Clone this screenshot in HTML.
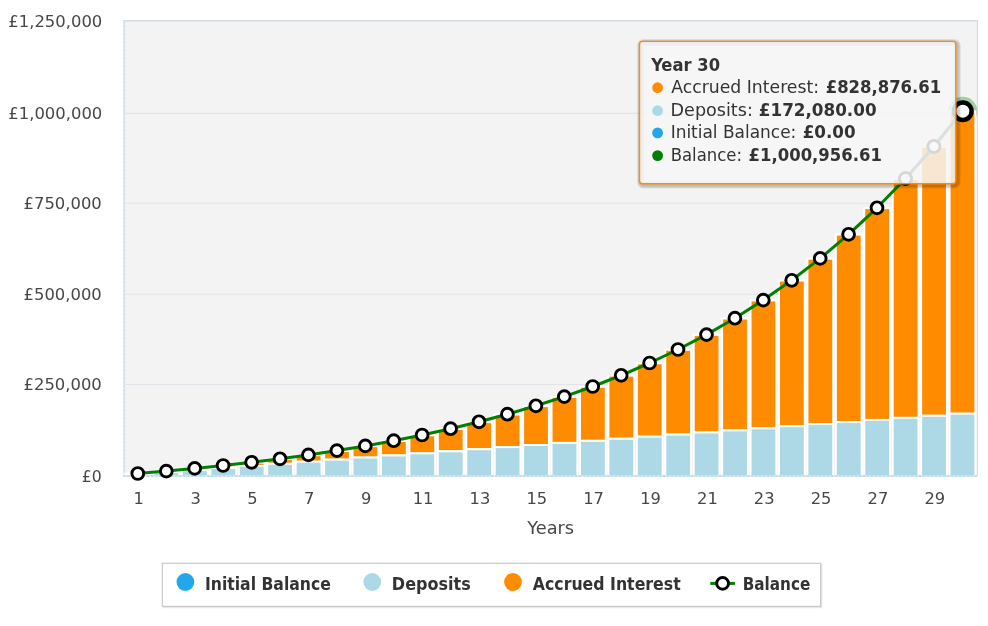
<!DOCTYPE html>
<html lang="en"><head><meta charset="utf-8"><title>Savings chart</title>
<style>html,body{margin:0;padding:0;background:#fff}svg{display:block}text{font-family:'DejaVu Sans','Liberation Sans',sans-serif;font-size:16.3px}</style></head><body>
<svg width="988" height="626" viewBox="0 0 988 626">
<rect x="0" y="0" width="988" height="626" fill="#ffffff"/>
<rect x="123.5" y="20.2" width="854.0" height="456.6" fill="#f3f3f3"/>
<line x1="123.5" x2="977.5" y1="113.4" y2="113.4" stroke="#e0e4e8" stroke-width="1.1"/>
<line x1="123.5" x2="977.5" y1="203.3" y2="203.3" stroke="#e0e4e8" stroke-width="1.1"/>
<line x1="123.5" x2="977.5" y1="294.2" y2="294.2" stroke="#e0e4e8" stroke-width="1.1"/>
<line x1="123.5" x2="977.5" y1="384.5" y2="384.5" stroke="#e0e4e8" stroke-width="1.1"/>
<line x1="123.2" x2="977.8" y1="20.7" y2="20.7" stroke="#d3dbe3" stroke-width="1.4"/>
<line x1="124.2" x2="124.2" y1="20" y2="476" stroke="#dde3e9" stroke-width="1.7"/>
<line x1="124.2" x2="124.2" y1="22.0" y2="476" stroke="#c6d3e1" stroke-width="1.1" stroke-dasharray="0.9,3.1"/>
<line x1="977.4" x2="977.4" y1="20" y2="476" stroke="#d5dce3" stroke-width="1.1"/>
<clipPath id="pc"><rect x="123.5" y="0" width="854.0" height="476.8"/></clipPath>
<circle cx="962.8" cy="111.2" r="14.4" fill="#008000" fill-opacity="0.32" clip-path="url(#pc)"/>
<rect x="125.10" y="473.76" width="25.8" height="0.49" fill="#FF8C00" stroke="#fff" stroke-width="2"/>
<rect x="125.10" y="474.25" width="25.8" height="1.75" fill="#ADD8E6" stroke="#fff" stroke-width="2"/>
<rect x="153.53" y="471.35" width="25.8" height="0.81" fill="#FF8C00" stroke="#fff" stroke-width="2"/>
<rect x="153.53" y="472.16" width="25.8" height="3.84" fill="#ADD8E6" stroke="#fff" stroke-width="2"/>
<rect x="181.96" y="468.71" width="25.8" height="1.37" fill="#FF8C00" stroke="#fff" stroke-width="2"/>
<rect x="181.96" y="470.07" width="25.8" height="5.93" fill="#ADD8E6" stroke="#fff" stroke-width="2"/>
<rect x="210.39" y="465.80" width="25.8" height="2.19" fill="#FF8C00" stroke="#fff" stroke-width="2"/>
<rect x="210.39" y="467.99" width="25.8" height="8.01" fill="#ADD8E6" stroke="#fff" stroke-width="2"/>
<rect x="238.82" y="462.59" width="25.8" height="3.31" fill="#FF8C00" stroke="#fff" stroke-width="2"/>
<rect x="238.82" y="465.90" width="25.8" height="10.10" fill="#ADD8E6" stroke="#fff" stroke-width="2"/>
<rect x="267.25" y="459.06" width="25.8" height="4.75" fill="#FF8C00" stroke="#fff" stroke-width="2"/>
<rect x="267.25" y="463.81" width="25.8" height="12.19" fill="#ADD8E6" stroke="#fff" stroke-width="2"/>
<rect x="295.68" y="455.18" width="25.8" height="6.54" fill="#FF8C00" stroke="#fff" stroke-width="2"/>
<rect x="295.68" y="461.72" width="25.8" height="14.28" fill="#ADD8E6" stroke="#fff" stroke-width="2"/>
<rect x="324.11" y="450.90" width="25.8" height="8.73" fill="#FF8C00" stroke="#fff" stroke-width="2"/>
<rect x="324.11" y="459.63" width="25.8" height="16.37" fill="#ADD8E6" stroke="#fff" stroke-width="2"/>
<rect x="352.54" y="446.19" width="25.8" height="11.35" fill="#FF8C00" stroke="#fff" stroke-width="2"/>
<rect x="352.54" y="457.54" width="25.8" height="18.46" fill="#ADD8E6" stroke="#fff" stroke-width="2"/>
<rect x="380.97" y="441.01" width="25.8" height="14.44" fill="#FF8C00" stroke="#fff" stroke-width="2"/>
<rect x="380.97" y="455.45" width="25.8" height="20.55" fill="#ADD8E6" stroke="#fff" stroke-width="2"/>
<rect x="409.40" y="435.31" width="25.8" height="18.06" fill="#FF8C00" stroke="#fff" stroke-width="2"/>
<rect x="409.40" y="453.37" width="25.8" height="22.63" fill="#ADD8E6" stroke="#fff" stroke-width="2"/>
<rect x="437.83" y="429.03" width="25.8" height="22.25" fill="#FF8C00" stroke="#fff" stroke-width="2"/>
<rect x="437.83" y="451.28" width="25.8" height="24.72" fill="#ADD8E6" stroke="#fff" stroke-width="2"/>
<rect x="466.26" y="422.12" width="25.8" height="27.07" fill="#FF8C00" stroke="#fff" stroke-width="2"/>
<rect x="466.26" y="449.19" width="25.8" height="26.81" fill="#ADD8E6" stroke="#fff" stroke-width="2"/>
<rect x="494.69" y="414.51" width="25.8" height="32.59" fill="#FF8C00" stroke="#fff" stroke-width="2"/>
<rect x="494.69" y="447.10" width="25.8" height="28.90" fill="#ADD8E6" stroke="#fff" stroke-width="2"/>
<rect x="523.12" y="406.14" width="25.8" height="38.87" fill="#FF8C00" stroke="#fff" stroke-width="2"/>
<rect x="523.12" y="445.01" width="25.8" height="30.99" fill="#ADD8E6" stroke="#fff" stroke-width="2"/>
<rect x="551.55" y="396.92" width="25.8" height="46.00" fill="#FF8C00" stroke="#fff" stroke-width="2"/>
<rect x="551.55" y="442.92" width="25.8" height="33.08" fill="#ADD8E6" stroke="#fff" stroke-width="2"/>
<rect x="579.98" y="386.78" width="25.8" height="54.06" fill="#FF8C00" stroke="#fff" stroke-width="2"/>
<rect x="579.98" y="440.83" width="25.8" height="35.17" fill="#ADD8E6" stroke="#fff" stroke-width="2"/>
<rect x="608.41" y="375.61" width="25.8" height="63.14" fill="#FF8C00" stroke="#fff" stroke-width="2"/>
<rect x="608.41" y="438.75" width="25.8" height="37.25" fill="#ADD8E6" stroke="#fff" stroke-width="2"/>
<rect x="636.84" y="363.31" width="25.8" height="73.34" fill="#FF8C00" stroke="#fff" stroke-width="2"/>
<rect x="636.84" y="436.66" width="25.8" height="39.34" fill="#ADD8E6" stroke="#fff" stroke-width="2"/>
<rect x="665.27" y="349.78" width="25.8" height="84.79" fill="#FF8C00" stroke="#fff" stroke-width="2"/>
<rect x="665.27" y="434.57" width="25.8" height="41.43" fill="#ADD8E6" stroke="#fff" stroke-width="2"/>
<rect x="693.70" y="334.88" width="25.8" height="97.60" fill="#FF8C00" stroke="#fff" stroke-width="2"/>
<rect x="693.70" y="432.48" width="25.8" height="43.52" fill="#ADD8E6" stroke="#fff" stroke-width="2"/>
<rect x="722.13" y="318.48" width="25.8" height="111.91" fill="#FF8C00" stroke="#fff" stroke-width="2"/>
<rect x="722.13" y="430.39" width="25.8" height="45.61" fill="#ADD8E6" stroke="#fff" stroke-width="2"/>
<rect x="750.56" y="300.43" width="25.8" height="127.87" fill="#FF8C00" stroke="#fff" stroke-width="2"/>
<rect x="750.56" y="428.30" width="25.8" height="47.70" fill="#ADD8E6" stroke="#fff" stroke-width="2"/>
<rect x="778.99" y="280.56" width="25.8" height="145.65" fill="#FF8C00" stroke="#fff" stroke-width="2"/>
<rect x="778.99" y="426.21" width="25.8" height="49.79" fill="#ADD8E6" stroke="#fff" stroke-width="2"/>
<rect x="807.42" y="258.69" width="25.8" height="165.43" fill="#FF8C00" stroke="#fff" stroke-width="2"/>
<rect x="807.42" y="424.13" width="25.8" height="51.87" fill="#ADD8E6" stroke="#fff" stroke-width="2"/>
<rect x="835.85" y="234.61" width="25.8" height="187.42" fill="#FF8C00" stroke="#fff" stroke-width="2"/>
<rect x="835.85" y="422.04" width="25.8" height="53.96" fill="#ADD8E6" stroke="#fff" stroke-width="2"/>
<rect x="864.28" y="208.11" width="25.8" height="211.84" fill="#FF8C00" stroke="#fff" stroke-width="2"/>
<rect x="864.28" y="419.95" width="25.8" height="56.05" fill="#ADD8E6" stroke="#fff" stroke-width="2"/>
<rect x="892.71" y="178.94" width="25.8" height="238.92" fill="#FF8C00" stroke="#fff" stroke-width="2"/>
<rect x="892.71" y="417.86" width="25.8" height="58.14" fill="#ADD8E6" stroke="#fff" stroke-width="2"/>
<rect x="921.14" y="146.82" width="25.8" height="268.95" fill="#FF8C00" stroke="#fff" stroke-width="2"/>
<rect x="921.14" y="415.77" width="25.8" height="60.23" fill="#ADD8E6" stroke="#fff" stroke-width="2"/>
<rect x="949.57" y="111.47" width="25.8" height="302.21" fill="#FF8C00" stroke="#fff" stroke-width="2"/>
<rect x="949.57" y="413.68" width="25.8" height="62.32" fill="#ADD8E6" stroke="#fff" stroke-width="2"/>
<line x1="123.5" x2="977.5" y1="475.9" y2="475.9" stroke="#dadfe4" stroke-width="1.9"/>
<line x1="123.5" x2="977.5" y1="476.3" y2="476.3" stroke="#8fd0ec" stroke-width="1" stroke-dasharray="1.2,2.8"/>
<polyline points="137.8,473.5 166.3,471.1 194.7,468.4 223.1,465.5 251.6,462.3 280.0,458.8 308.4,454.9 336.9,450.6 365.3,445.9 393.7,440.7 422.1,435.0 450.6,428.7 479.0,421.8 507.4,414.2 535.9,405.8 564.3,396.6 592.7,386.5 621.2,375.3 649.6,363.0 678.0,349.5 706.5,334.6 734.9,318.2 763.3,300.1 791.7,280.3 820.2,258.4 848.6,234.3 877.0,207.8 905.5,178.6 933.9,146.5 962.3,111.2" fill="none" stroke="#008000" stroke-width="3" stroke-linejoin="round" stroke-linecap="round"/>
<circle cx="137.8" cy="473.5" r="5.9" fill="#fff" stroke="#000" stroke-width="2.9"/>
<circle cx="166.3" cy="471.1" r="5.9" fill="#fff" stroke="#000" stroke-width="2.9"/>
<circle cx="194.7" cy="468.4" r="5.9" fill="#fff" stroke="#000" stroke-width="2.9"/>
<circle cx="223.1" cy="465.5" r="5.9" fill="#fff" stroke="#000" stroke-width="2.9"/>
<circle cx="251.6" cy="462.3" r="5.9" fill="#fff" stroke="#000" stroke-width="2.9"/>
<circle cx="280.0" cy="458.8" r="5.9" fill="#fff" stroke="#000" stroke-width="2.9"/>
<circle cx="308.4" cy="454.9" r="5.9" fill="#fff" stroke="#000" stroke-width="2.9"/>
<circle cx="336.9" cy="450.6" r="5.9" fill="#fff" stroke="#000" stroke-width="2.9"/>
<circle cx="365.3" cy="445.9" r="5.9" fill="#fff" stroke="#000" stroke-width="2.9"/>
<circle cx="393.7" cy="440.7" r="5.9" fill="#fff" stroke="#000" stroke-width="2.9"/>
<circle cx="422.1" cy="435.0" r="5.9" fill="#fff" stroke="#000" stroke-width="2.9"/>
<circle cx="450.6" cy="428.7" r="5.9" fill="#fff" stroke="#000" stroke-width="2.9"/>
<circle cx="479.0" cy="421.8" r="5.9" fill="#fff" stroke="#000" stroke-width="2.9"/>
<circle cx="507.4" cy="414.2" r="5.9" fill="#fff" stroke="#000" stroke-width="2.9"/>
<circle cx="535.9" cy="405.8" r="5.9" fill="#fff" stroke="#000" stroke-width="2.9"/>
<circle cx="564.3" cy="396.6" r="5.9" fill="#fff" stroke="#000" stroke-width="2.9"/>
<circle cx="592.7" cy="386.5" r="5.9" fill="#fff" stroke="#000" stroke-width="2.9"/>
<circle cx="621.2" cy="375.3" r="5.9" fill="#fff" stroke="#000" stroke-width="2.9"/>
<circle cx="649.6" cy="363.0" r="5.9" fill="#fff" stroke="#000" stroke-width="2.9"/>
<circle cx="678.0" cy="349.5" r="5.9" fill="#fff" stroke="#000" stroke-width="2.9"/>
<circle cx="706.5" cy="334.6" r="5.9" fill="#fff" stroke="#000" stroke-width="2.9"/>
<circle cx="734.9" cy="318.2" r="5.9" fill="#fff" stroke="#000" stroke-width="2.9"/>
<circle cx="763.3" cy="300.1" r="5.9" fill="#fff" stroke="#000" stroke-width="2.9"/>
<circle cx="791.7" cy="280.3" r="5.9" fill="#fff" stroke="#000" stroke-width="2.9"/>
<circle cx="820.2" cy="258.4" r="5.9" fill="#fff" stroke="#000" stroke-width="2.9"/>
<circle cx="848.6" cy="234.3" r="5.9" fill="#fff" stroke="#000" stroke-width="2.9"/>
<circle cx="877.0" cy="207.8" r="5.9" fill="#fff" stroke="#000" stroke-width="2.9"/>
<circle cx="905.5" cy="178.6" r="5.9" fill="#fff" stroke="#000" stroke-width="2.9"/>
<circle cx="933.9" cy="146.5" r="5.9" fill="#fff" stroke="#000" stroke-width="2.9"/>
<circle cx="962.8" cy="111.2" r="8.8" fill="#fff" stroke="#000" stroke-width="4.5"/>
<text x="8.29" y="26.8" fill="#494745" style="font-family:'DejaVu Sans','Liberation Sans',sans-serif;font-size:16.3px;font-weight:normal" textLength="94.05" lengthAdjust="spacingAndGlyphs">£1,250,000</text>
<text x="8.29" y="118.6" fill="#494745" style="font-family:'DejaVu Sans','Liberation Sans',sans-serif;font-size:16.3px;font-weight:normal" textLength="94.05" lengthAdjust="spacingAndGlyphs">£1,000,000</text>
<text x="23.59" y="208.7" fill="#494745" style="font-family:'DejaVu Sans','Liberation Sans',sans-serif;font-size:16.3px;font-weight:normal" textLength="78.20" lengthAdjust="spacingAndGlyphs">£750,000</text>
<text x="23.59" y="299.6" fill="#494745" style="font-family:'DejaVu Sans','Liberation Sans',sans-serif;font-size:16.3px;font-weight:normal" textLength="78.20" lengthAdjust="spacingAndGlyphs">£500,000</text>
<text x="23.59" y="389.9" fill="#494745" style="font-family:'DejaVu Sans','Liberation Sans',sans-serif;font-size:16.3px;font-weight:normal" textLength="78.20" lengthAdjust="spacingAndGlyphs">£250,000</text>
<text x="81.84" y="481.8" fill="#494745" style="font-family:'DejaVu Sans','Liberation Sans',sans-serif;font-size:16.3px;font-weight:normal" textLength="19.96" lengthAdjust="spacingAndGlyphs">£0</text>
<text x="527.30" y="533.6" fill="#494745" style="font-family:'DejaVu Sans','Liberation Sans',sans-serif;font-size:17.3px;font-weight:normal" textLength="46.81" lengthAdjust="spacingAndGlyphs">Years</text>
<text x="138.8" y="503.8" text-anchor="middle" fill="#494745">1</text>
<text x="195.6" y="503.8" text-anchor="middle" fill="#494745">3</text>
<text x="252.5" y="503.8" text-anchor="middle" fill="#494745">5</text>
<text x="309.3" y="503.8" text-anchor="middle" fill="#494745">7</text>
<text x="366.2" y="503.8" text-anchor="middle" fill="#494745">9</text>
<text x="423.0" y="503.8" text-anchor="middle" fill="#494745">11</text>
<text x="479.9" y="503.8" text-anchor="middle" fill="#494745">13</text>
<text x="536.8" y="503.8" text-anchor="middle" fill="#494745">15</text>
<text x="593.6" y="503.8" text-anchor="middle" fill="#494745">17</text>
<text x="650.5" y="503.8" text-anchor="middle" fill="#494745">19</text>
<text x="707.4" y="503.8" text-anchor="middle" fill="#494745">21</text>
<text x="764.2" y="503.8" text-anchor="middle" fill="#494745">23</text>
<text x="821.1" y="503.8" text-anchor="middle" fill="#494745">25</text>
<text x="877.9" y="503.8" text-anchor="middle" fill="#494745">27</text>
<text x="934.8" y="503.8" text-anchor="middle" fill="#494745">29</text>
<rect x="163.4" y="564.3" width="658.2" height="43.1" fill="none" stroke="#000" stroke-opacity="0.09" stroke-width="1.6"/>
<rect x="162.4" y="563.3" width="658.2" height="43.1" fill="#fff" stroke="#c9c9c9" stroke-width="1.2"/>
<circle cx="185.4" cy="582" r="8.9" fill="#22A7EA"/>
<circle cx="372.3" cy="582" r="8.9" fill="#ADD8E6"/>
<circle cx="513" cy="582" r="8.9" fill="#FF8C00"/>
<line x1="710.3" x2="734.9" y1="583.4" y2="583.4" stroke="#008000" stroke-width="3"/>
<circle cx="722.6" cy="583.4" r="5.9" fill="#fff" stroke="#000" stroke-width="2.9"/>
<text x="205.01" y="589.8" fill="#333333" style="font-family:'DejaVu Sans Condensed','DejaVu Sans','Liberation Sans',sans-serif;font-size:17.5px;font-weight:bold" textLength="125.82" lengthAdjust="spacingAndGlyphs">Initial Balance</text>
<text x="391.88" y="589.8" fill="#333333" style="font-family:'DejaVu Sans Condensed','DejaVu Sans','Liberation Sans',sans-serif;font-size:17.5px;font-weight:bold" textLength="78.84" lengthAdjust="spacingAndGlyphs">Deposits</text>
<text x="532.80" y="589.8" fill="#333333" style="font-family:'DejaVu Sans Condensed','DejaVu Sans','Liberation Sans',sans-serif;font-size:17.5px;font-weight:bold">Accrued Interest</text>
<text x="742.73" y="589.8" fill="#333333" style="font-family:'DejaVu Sans Condensed','DejaVu Sans','Liberation Sans',sans-serif;font-size:17.5px;font-weight:bold" textLength="67.53" lengthAdjust="spacingAndGlyphs">Balance</text>
<rect x="640.7" y="42.6" width="316.3" height="142.3" rx="3" fill="none" stroke="#000" stroke-opacity="0.09" stroke-width="7.4"/>
<rect x="640.7" y="42.6" width="316.3" height="142.3" rx="3" fill="none" stroke="#000" stroke-opacity="0.09" stroke-width="5.4"/>
<rect x="640.7" y="42.6" width="316.3" height="142.3" rx="3" fill="none" stroke="#000" stroke-opacity="0.06" stroke-width="3.0"/>
<rect x="639.5" y="41.4" width="316.3" height="142.3" rx="3" fill="#f6f6f6" fill-opacity="0.85" stroke="#FF8C00" stroke-width="1.4"/>
<clipPath id="tc"><rect x="640.2" y="42.1" width="314.9" height="140.9"/></clipPath>
<g clip-path="url(#tc)"><polyline points="877.0,207.8 905.5,178.6 933.9,146.5 962.3,111.2" fill="none" stroke="#dbe0e5" stroke-width="2.3"/>
<circle cx="905.5" cy="178.6" r="5.9" fill="#f8f8f8" stroke="#d6d6d6" stroke-width="2.5"/>
<circle cx="933.9" cy="146.5" r="5.9" fill="#f8f8f8" stroke="#d6d6d6" stroke-width="2.5"/>
<circle cx="962.8" cy="111.2" r="8.8" fill="#f8f8f8" stroke="#d2d2d2" stroke-width="4.5"/></g>
<text x="651.20" y="70.8" fill="#333333" style="font-family:'DejaVu Sans Condensed','DejaVu Sans','Liberation Sans',sans-serif;font-size:17.5px;font-weight:bold" textLength="68.86" lengthAdjust="spacingAndGlyphs">Year 30</text>
<text x="671.20" y="92.6" fill="#333333" style="font-family:'DejaVu Sans','Liberation Sans',sans-serif;font-size:17.5px;font-weight:normal" textLength="147.84" lengthAdjust="spacingAndGlyphs">Accrued Interest:</text>
<text x="825.76" y="92.6" fill="#333333" style="font-family:'DejaVu Sans Condensed','DejaVu Sans','Liberation Sans',sans-serif;font-size:17.5px;font-weight:bold" textLength="115.43" lengthAdjust="spacingAndGlyphs">£828,876.61</text>
<text x="670.60" y="115.7" fill="#333333" style="font-family:'DejaVu Sans','Liberation Sans',sans-serif;font-size:17.5px;font-weight:normal" textLength="82.23" lengthAdjust="spacingAndGlyphs">Deposits:</text>
<text x="758.83" y="115.7" fill="#333333" style="font-family:'DejaVu Sans Condensed','DejaVu Sans','Liberation Sans',sans-serif;font-size:17.5px;font-weight:bold" textLength="117.76" lengthAdjust="spacingAndGlyphs">£172,080.00</text>
<text x="670.63" y="137.8" fill="#333333" style="font-family:'DejaVu Sans','Liberation Sans',sans-serif;font-size:17.5px;font-weight:normal" textLength="125.70" lengthAdjust="spacingAndGlyphs">Initial Balance:</text>
<text x="802.74" y="137.8" fill="#333333" style="font-family:'DejaVu Sans Condensed','DejaVu Sans','Liberation Sans',sans-serif;font-size:17.5px;font-weight:bold" textLength="52.93" lengthAdjust="spacingAndGlyphs">£0.00</text>
<text x="670.66" y="160.5" fill="#333333" style="font-family:'DejaVu Sans','Liberation Sans',sans-serif;font-size:17.5px;font-weight:normal" textLength="71.35" lengthAdjust="spacingAndGlyphs">Balance:</text>
<text x="748.55" y="160.5" fill="#333333" style="font-family:'DejaVu Sans Condensed','DejaVu Sans','Liberation Sans',sans-serif;font-size:17.5px;font-weight:bold" textLength="133.37" lengthAdjust="spacingAndGlyphs">£1,000,956.61</text>
<circle cx="657.6" cy="87.7" r="5.4" fill="#FF8C00"/>
<circle cx="657.6" cy="110.7" r="5.4" fill="#ADD8E6"/>
<circle cx="657.6" cy="132.9" r="5.4" fill="#22A7EA"/>
<circle cx="657.6" cy="155.6" r="5.4" fill="#008000"/>
</svg></body></html>
